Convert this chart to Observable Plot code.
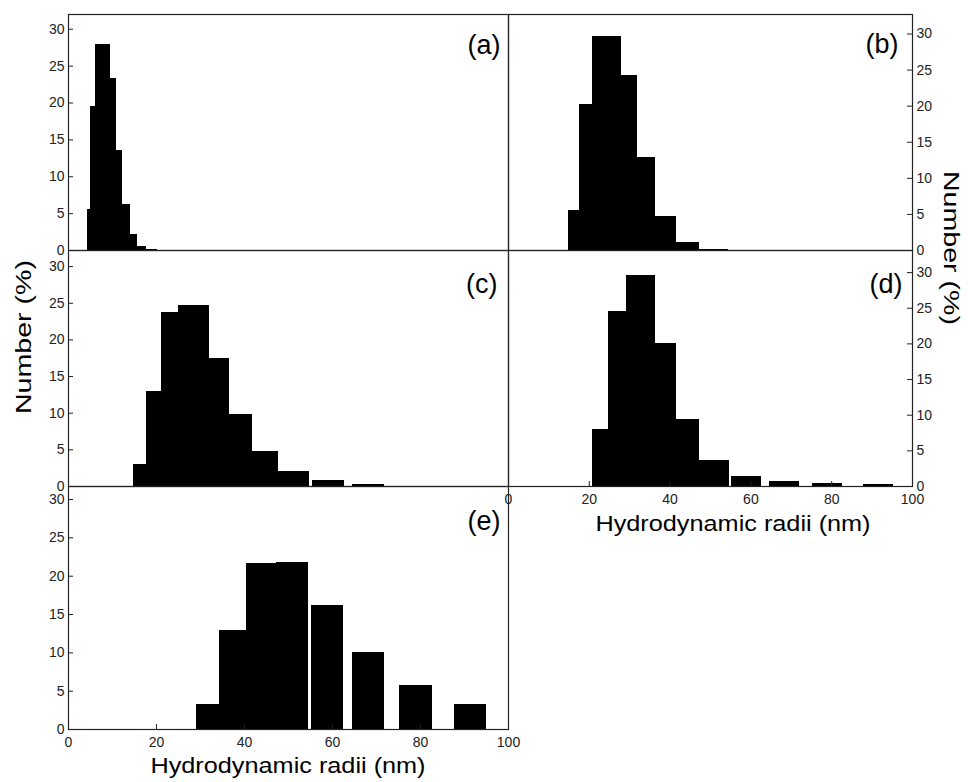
<!DOCTYPE html>
<html><head><meta charset="utf-8">
<script src="https://cdn.jsdelivr.net/npm/d3@7"></script>
<script src="https://cdn.jsdelivr.net/npm/@observablehq/plot@0.6"></script>
<style>
html,body{margin:0;padding:0;background:#fff;overflow:hidden;}
#chart{position:relative;width:968px;height:782px;background:#fff;font-family:"Liberation Sans",Arial,sans-serif;}
#chart svg{position:absolute;left:0;top:0;}
.t{position:absolute;white-space:nowrap;font-size:22px;line-height:1;color:#000;}
</style></head><body><div id="chart"></div>
<script>
// ---- data (hydrodynamic radius bins in nm, number %) ----
const aLo  = [4.23, 5.06, 6.2, 9.6, 10.96, 12.25, 13.99, 15.65, 17.77];
const aHi  = [5.06, 6.2, 9.6, 10.96, 12.25, 13.99, 15.65, 17.77, 20.2];
const aPct = [5.56, 19.5, 27.9, 23.3, 13.6, 6.24, 2.2, 0.58, 0.14];

const bLo  = [14.75, 17.55, 20.7, 27.99, 31.9, 36.4, 41.6, 47.4];
const bHi  = [17.55, 20.7, 27.99, 31.9, 36.4, 41.6, 47.4, 54.4];
const bPct = [5.5, 20.2, 29.7, 24.2, 12.85, 4.65, 1.08, 0.1];

const cLo  = [14.75, 17.7, 21.1, 24.9, 32.1, 36.6, 41.9, 47.8, 55.4, 64.6];
const cHi  = [17.7, 21.1, 24.9, 32.1, 36.6, 41.9, 47.8, 54.8, 62.8, 71.9];
const cPct = [2.96, 13.0, 23.8, 24.65, 17.46, 9.78, 4.73, 2.09, 0.87, 0.28];

const dLo  = [20.9, 24.8, 29.2, 36.4, 41.6, 47.4, 55.2, 64.6, 75.3, 87.8];
const dHi  = [24.8, 29.2, 36.4, 41.6, 47.4, 54.6, 62.5, 72.0, 82.7, 95.2];
const dPct = [8.0, 24.5, 29.6, 20.0, 9.4, 3.7, 1.4, 0.66, 0.47, 0.23];

const eLo  = [29.2, 34.4, 40.4, 47.3, 55.2, 64.6, 75.3, 87.7];
const eHi  = [34.4, 40.4, 47.3, 54.6, 62.6, 71.9, 82.7, 95.1];
const ePct = [3.26, 12.86, 21.65, 21.82, 16.17, 10.04, 5.74, 3.26];

const yTicks = [0, 5, 10, 15, 20, 25, 30];
const xTicks = [0, 20, 40, 60, 80, 100];
const panelLabels = ["(a)", "(b)", "(c)", "(d)", "(e)"];
const yTitle = "Number (%)";
const xTitle = "Hydrodynamic radii (nm)";

// ---- layout ----
const W = 968, H = 782;
const root = document.getElementById("chart");

function panel(lo, hi, pct, cfg) {
  const rows = lo.map((d, i) => ({lo: d, hi: hi[i], pct: pct[i]}));
  const [L, T, R, B] = cfg.frame;
  const pw = R - L, ph = B - T;
  const marks = [
    Plot.rect(rows, {x1: "lo", x2: "hi", y1: 0, y2: "pct", fill: "#000", shapeRendering: "crispEdges"}),
    Plot.tickY(yTicks, cfg.yAxis === "left"
      ? {y: d => d, insetRight: pw - 5, stroke: "#222"}
      : {y: d => d, insetLeft: pw - 5, stroke: "#222"}),
    Plot.frame({stroke: "#222", strokeWidth: 1.2}),
    Plot.text([cfg.label], {text: d => d, frameAnchor: "top-right", textAnchor: "end", lineAnchor: "middle",
      dx: cfg.ldx, dy: cfg.ldy, fontSize: 27, fill: "#000"})
  ];
  if (cfg.xAxis) marks.push(Plot.tickX(xTicks, {x: d => d, insetTop: ph - 5, stroke: "#222"}));
  const svg = Plot.plot({
    width: W, height: H,
    marginLeft: L, marginRight: W - R, marginTop: T, marginBottom: H - B,
    x: {domain: [0, 100], axis: cfg.xAxis ? "bottom" : null, ticks: xTicks, tickSize: 0, tickPadding: 8, label: null},
    y: {domain: [0, cfg.yMax], axis: cfg.yAxis, ticks: yTicks, tickSize: 0, tickPadding: 4, label: null},
    style: "background:transparent;overflow:visible;font-family:'Liberation Sans',Arial,sans-serif;font-size:14px;color:#222;",
    marks
  });
  root.appendChild(svg);
}

panel(aLo, aHi, aPct, {frame: [68, 14, 508, 250], yMax: 32.0, yAxis: "left",  xAxis: false, label: panelLabels[0], ldx: -8,  ldy: 31});
panel(bLo, bHi, bPct, {frame: [508, 14, 912, 250], yMax: 32.7, yAxis: "right", xAxis: false, label: panelLabels[1], ldx: -14, ldy: 29.5});
panel(cLo, cHi, cPct, {frame: [68, 250, 508, 486], yMax: 32.2, yAxis: "left",  xAxis: false, label: panelLabels[2], ldx: -11, ldy: 33.5});
panel(dLo, dHi, dPct, {frame: [508, 250, 912, 486], yMax: 33.1, yAxis: "right", xAxis: true,  label: panelLabels[3], ldx: -10, ldy: 33.5});
panel(eLo, eHi, ePct, {frame: [68, 486, 508, 729], yMax: 31.7, yAxis: "left",  xAxis: true,  label: panelLabels[4], ldx: -8,  ldy: 34.5});

function title(text, cx, cy, rot, sx) {
  const d = document.createElement("div");
  d.className = "t";
  d.textContent = text;
  d.style.left = cx + "px";
  d.style.top = cy + "px";
  d.style.transform = `translate(-50%,-50%) rotate(${rot}deg) scaleX(${sx})`;
  root.appendChild(d);
}
title(yTitle, 23.7, 337, -90, 1.3);
title(yTitle, 951, 248, 90, 1.3);
title(xTitle, 732.5, 523.5, 0, 1.148);
title(xTitle, 288, 765.7, 0, 1.148);
</script></body></html>
